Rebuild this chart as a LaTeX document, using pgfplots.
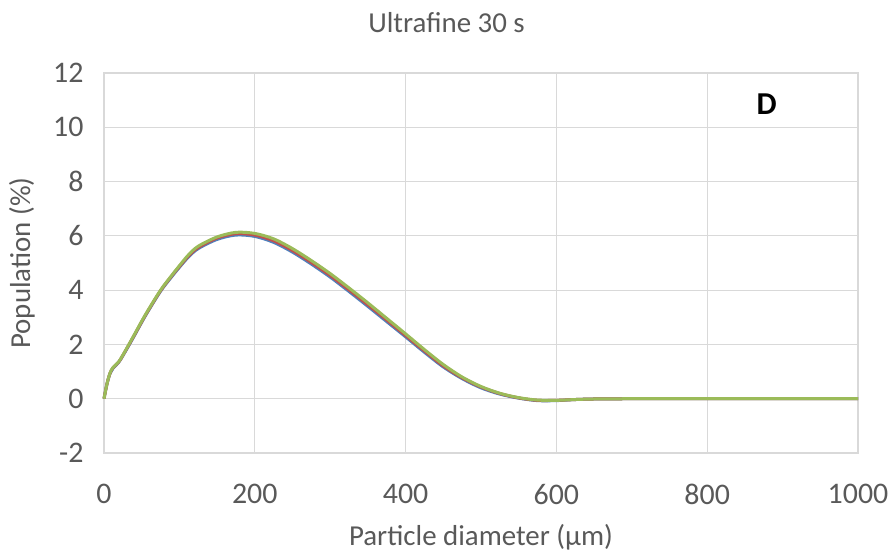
\documentclass[border=0pt]{standalone}
\usepackage{fontspec}
\setmainfont{Carlito}
\usepackage{pgfplots}
\pgfplotsset{compat=1.18}
\definecolor{txt}{HTML}{595959}
\definecolor{grd}{HTML}{D9D9D9}
\definecolor{s1}{HTML}{4F81BD}
\definecolor{s2}{HTML}{C0504D}
\definecolor{s3}{HTML}{9BBB59}
\pgfplotstableread{
x y
0 0
4 0.55
8 0.93
12 1.12
20 1.36
30 1.82
40 2.31
55 3.06
75 3.96
90 4.50
100 4.84
112 5.22
125 5.53
150 5.87
175 6.03
200 5.98
225 5.76
250 5.40
275 4.96
300 4.48
325 3.95
350 3.40
375 2.84
400 2.28
425 1.71
450 1.17
475 0.74
500 0.40
525 0.17
550 0.02
575 -0.07
600 -0.07
625 -0.03
650 -0.01
700 0
800 0
1000 0
}\blue
\pgfplotstableread{
x y
0 0
4 0.55
8 0.94
12 1.14
20 1.37
30 1.84
40 2.33
55 3.08
75 3.98
90 4.53
100 4.87
112 5.26
125 5.57
150 5.92
175 6.08
200 6.03
225 5.82
250 5.46
275 5.02
300 4.54
325 4.01
350 3.46
375 2.90
400 2.33
425 1.76
450 1.21
475 0.77
500 0.43
525 0.19
550 0.03
575 -0.06
600 -0.06
625 -0.03
650 -0.01
700 0
800 0
1000 0
}\red
\pgfplotstableread{
x y
0 0
4 0.55
8 0.95
12 1.15
20 1.38
30 1.85
40 2.35
55 3.10
75 4.00
90 4.55
100 4.90
112 5.30
125 5.62
150 5.96
175 6.13
200 6.09
225 5.89
250 5.53
275 5.09
300 4.61
325 4.08
350 3.53
375 2.96
400 2.39
425 1.81
450 1.26
475 0.80
500 0.45
525 0.20
550 0.04
575 -0.05
600 -0.06
625 -0.03
650 -0.01
700 0
800 0
1000 0
}\green
\begin{document}
\begin{tikzpicture}
\begin{axis}[
  scale only axis,
  width=754bp, height=380bp,
  xmin=0, xmax=1000, ymin=-2, ymax=12,
  xtick={0,200,...,1000}, ytick={-2,0,...,12},
  grid=major,
  grid style={grd, line width=1.2bp},
  axis line style={grd, line width=1.2bp},
  tick style={draw=none},
  ticklabel style={font=\fontsize{30}{34}\selectfont, text=txt},
  /pgf/number format/assume math mode=true,
  /pgf/number format/1000 sep={},
  xticklabel style={yshift=-28bp},
  yticklabel style={xshift=-17bp},
  xlabel={Particle diameter (μm)},
  ylabel={Population (\%)},
  label style={font=\fontsize{29}{34}\selectfont, text=txt},
  xlabel style={at={(axis description cs:0.5,-0.221)}, anchor=center},
  ylabel style={at={(axis description cs:-0.1088,0.5)}, anchor=center, rotate=0},
  clip=false,
]
\addplot[s1, line width=3bp, smooth] table[x=x,y=y]{\blue};
\addplot[s2, line width=3bp, smooth] table[x=x,y=y]{\red};
\addplot[s3, line width=3bp, smooth] table[x=x,y=y]{\green};
\node[font=\fontsize{32}{36}\selectfont\bfseries] at (axis cs:879,10.87) {D};
\node[font=\fontsize{29}{34}\selectfont, text=txt] at (axis description cs:0.4543,1.134) {Ultrafine 30 s};
\end{axis}
\pgfresetboundingbox
\path[use as bounding box] (-104bp,-102bp) rectangle (789bp,453bp);
\end{tikzpicture}
\end{document}
